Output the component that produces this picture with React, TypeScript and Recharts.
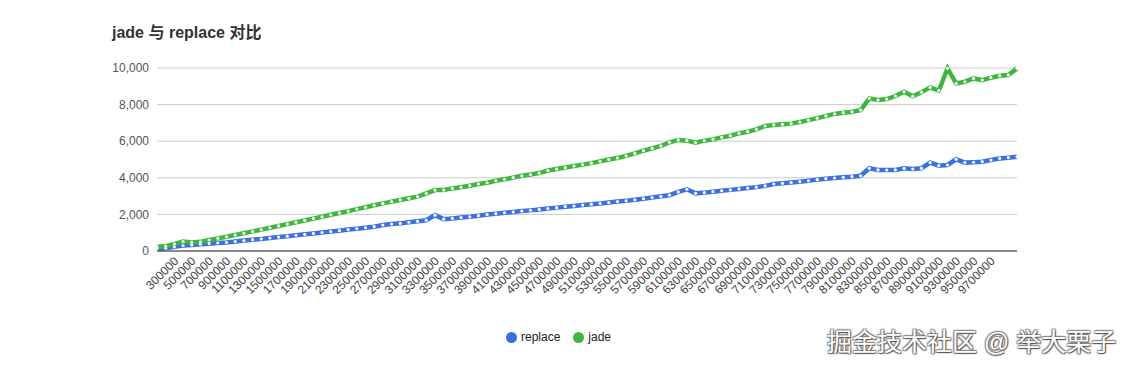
import { LineChart, Line, XAxis, YAxis, CartesianGrid } from 'recharts'

const CATEGORIES = [
  '100000', '200000', '300000', '400000', '500000', '600000', '700000', '800000', '900000', '1000000',
  '1100000', '1200000', '1300000', '1400000', '1500000', '1600000', '1700000', '1800000', '1900000', '2000000',
  '2100000', '2200000', '2300000', '2400000', '2500000', '2600000', '2700000', '2800000', '2900000', '3000000',
  '3100000', '3200000', '3300000', '3400000', '3500000', '3600000', '3700000', '3800000', '3900000', '4000000',
  '4100000', '4200000', '4300000', '4400000', '4500000', '4600000', '4700000', '4800000', '4900000', '5000000',
  '5100000', '5200000', '5300000', '5400000', '5500000', '5600000', '5700000', '5800000', '5900000', '6000000',
  '6100000', '6200000', '6300000', '6400000', '6500000', '6600000', '6700000', '6800000', '6900000', '7000000',
  '7100000', '7200000', '7300000', '7400000', '7500000', '7600000', '7700000', '7800000', '7900000', '8000000',
  '8100000', '8200000', '8300000', '8400000', '8500000', '8600000', '8700000', '8800000', '8900000', '9000000',
  '9100000', '9200000', '9300000', '9400000', '9500000', '9600000', '9700000', '9800000', '9900000', '10000000',
]

const REPLACE = [
  120, 150, 230, 300, 330, 370, 400, 440, 470, 520,
  570, 620, 660, 710, 760, 810, 860, 910, 960, 1010,
  1060, 1110, 1170, 1220, 1270, 1330, 1420, 1470, 1510, 1570,
  1620, 1680, 1960, 1740, 1780, 1830, 1870, 1930, 1990, 2040,
  2090, 2130, 2180, 2220, 2270, 2320, 2370, 2420, 2460, 2510,
  2560, 2600, 2650, 2700, 2740, 2800, 2860, 2920, 2990, 3050,
  3230, 3370, 3150, 3190, 3240, 3290, 3340, 3390, 3440, 3490,
  3560, 3660, 3700, 3740, 3790, 3840, 3900, 3950, 3990, 4030,
  4060, 4110, 4520, 4430, 4420, 4430, 4520, 4480, 4520, 4830,
  4660, 4700, 5010, 4830, 4850, 4880, 4970, 5060, 5100, 5150,
]

const JADE = [
  220, 270, 390, 520, 470, 500, 600, 690, 780, 870,
  970, 1070, 1170, 1270, 1370, 1470, 1570, 1670, 1770, 1870,
  1980, 2080, 2180, 2290, 2390, 2500, 2600, 2700, 2790, 2880,
  2970, 3150, 3330, 3330, 3420, 3480, 3570, 3660, 3730, 3840,
  3920, 4010, 4110, 4180, 4260, 4400, 4480, 4560, 4640, 4720,
  4800, 4900, 5000, 5080, 5200, 5330, 5480, 5610, 5740, 5940,
  6070, 6030, 5920, 6030, 6100, 6210, 6300, 6430, 6520, 6650,
  6830, 6890, 6920, 6960, 7050, 7150, 7260, 7380, 7490, 7560,
  7610, 7700, 8340, 8250, 8300, 8470, 8700, 8450, 8670, 8940,
  8760, 9980, 9150, 9250, 9430, 9340, 9470, 9580, 9620, 9980,
]

// only every other label fits under the axis
const SHOWN_TICKS = [
  '300000', '500000', '700000', '900000', '1100000', '1300000', '1500000', '1700000', '1900000', '2100000',
  '2300000', '2500000', '2700000', '2900000', '3100000', '3300000', '3500000', '3700000', '3900000', '4100000',
  '4300000', '4500000', '4700000', '4900000', '5100000', '5300000', '5500000', '5700000', '5900000', '6100000',
  '6300000', '6500000', '6700000', '6900000', '7100000', '7300000', '7500000', '7700000', '7900000', '8100000',
  '8300000', '8500000', '8700000', '8900000', '9100000', '9300000', '9500000', '9700000',
]

const Y_TICKS = [0, 2000, 4000, 6000, 8000, 10000]

const BLUE = '#3a70e3'
const GREEN = '#3cb83c'
const FONT = 'Arial, "Liberation Sans", "Noto Sans CJK SC", sans-serif'

const data = CATEGORIES.map((x, i) => ({ x, replace: REPLACE[i], jade: JADE[i] }))
const shown = new Set(SHOWN_TICKS)

function SlantTick({ x, y, payload }: any) {
  if (!shown.has(payload.value)) return <g />
  return (
    <text x={x + 2} y={y} dy={4} textAnchor="end" fontSize={12} fill="#444" fontFamily={FONT}
      transform={`rotate(-45, ${x + 2}, ${y})`}>
      {payload.value}
    </text>
  )
}

export default function App() {
  return (
    <div style={{ position: 'absolute', left: 0, top: 0, width: 1128, height: 368, background: '#fff', fontFamily: FONT }}>
      <div style={{ position: 'absolute', left: 112, top: 19, fontSize: 16, fontWeight: 'bold', color: '#333' }}>
        jade 与 replace 对比
      </div>
      <LineChart width={1128} height={368} data={data} margin={{ top: 68, right: 111, bottom: 57, left: 97 }}>
        <CartesianGrid vertical={false} stroke="#cccccc" />
        <XAxis dataKey="x" interval={0} height={60} tickLine={false} stroke="#333" tick={<SlantTick />} />
        <YAxis width={60} domain={[0, 10000]} ticks={Y_TICKS} axisLine={false} tickLine={false}
          tick={{ fontSize: 12, fill: '#555', fontFamily: FONT }}
          tickFormatter={(v: number) => v.toLocaleString('en-US')} />
        <Line type="linear" dataKey="replace" stroke={BLUE} strokeWidth={4.5} isAnimationActive={false}
          dot={{ r: 1.6, fill: '#fff', stroke: 'none' }} />
        <Line type="linear" dataKey="jade" stroke={GREEN} strokeWidth={4.5} isAnimationActive={false}
          dot={{ r: 1.6, fill: '#fff', stroke: 'none' }} />
      </LineChart>
      <div style={{ position: 'absolute', left: 506, top: 330, display: 'flex', alignItems: 'center', fontSize: 12, color: '#222' }}>
        <span style={{ width: 11, height: 11, borderRadius: '50%', background: BLUE, marginRight: 4 }} />
        <span style={{ marginRight: 13 }}>replace</span>
        <span style={{ width: 11, height: 11, borderRadius: '50%', background: GREEN, marginRight: 4 }} />
        <span>jade</span>
      </div>
      <div style={{ position: 'absolute', left: 827, top: 322, fontSize: 25, color: '#fff', whiteSpace: 'nowrap',
        textShadow: '1px 1px 1px #555, -1px -1px 1px #888, 1px -1px 1px #888, -1px 1px 1px #888' }}>
        掘金技术社区 @ 举大栗子
      </div>
    </div>
  )
}
